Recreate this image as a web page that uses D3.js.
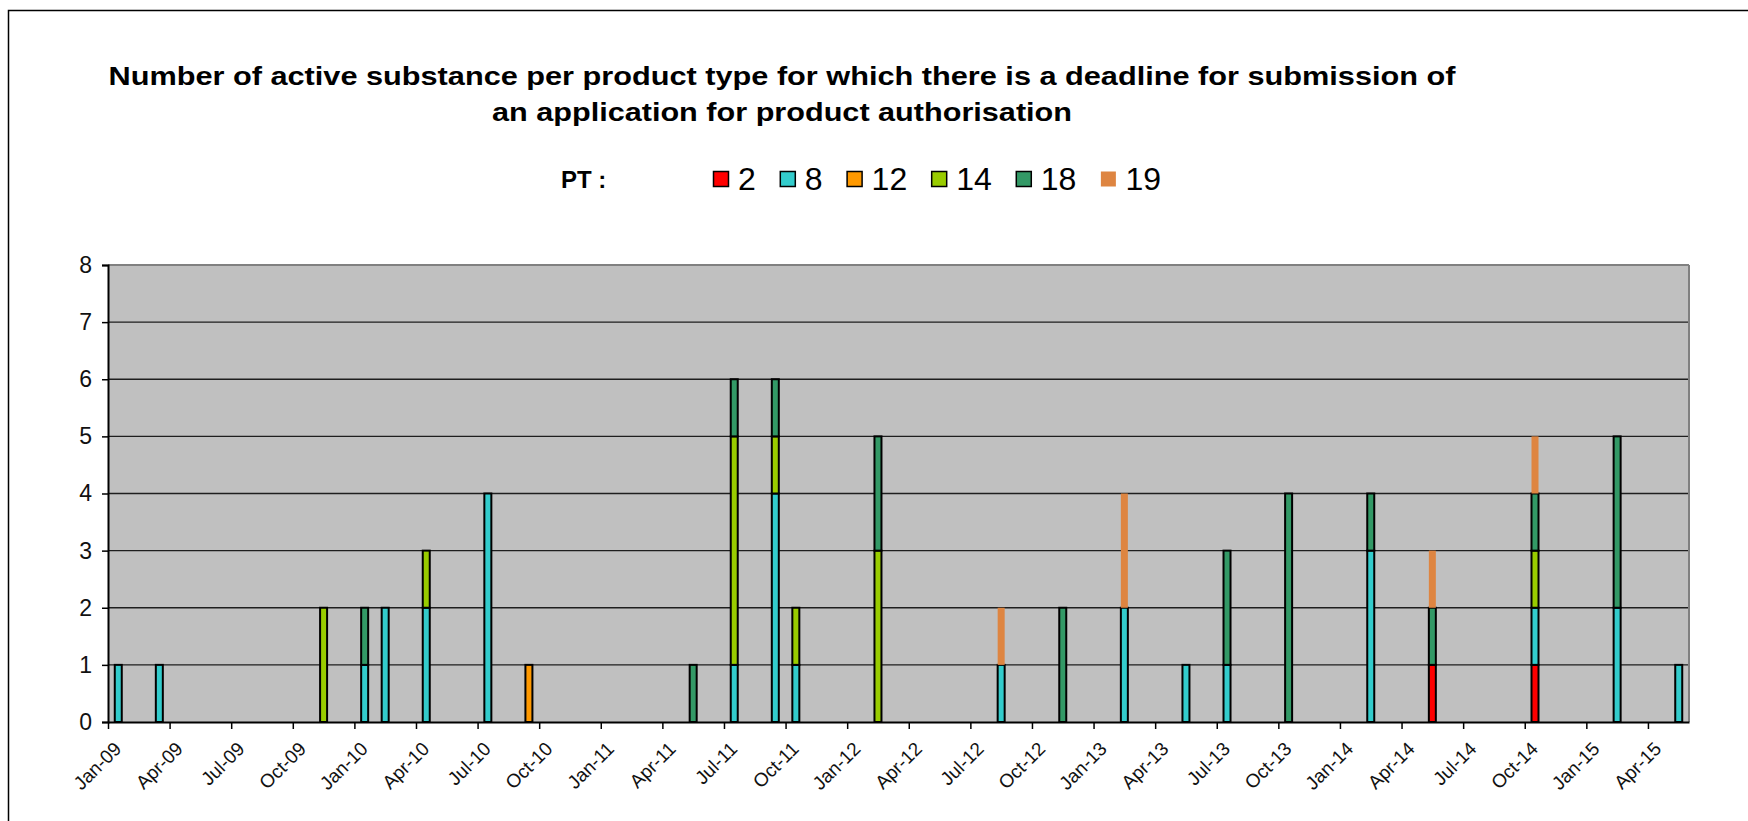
<!DOCTYPE html>
<html>
<head>
<meta charset="utf-8">
<script src="https://cdn.jsdelivr.net/npm/d3@7"></script>
<style>
  body { margin: 0; background: #fff; }
  svg { display: block; font-family: "Liberation Sans", Arial, sans-serif; }
</style>
</head>
<body>
<svg width="1748" height="821"></svg>
<script>
// deadline months (bars) and number of active substances per product type
var barMonths = ["2009-01", "2009-03", "2009-11", "2010-01", "2010-02", "2010-04", "2010-07", "2010-09",
  "2011-05", "2011-07", "2011-09", "2011-10", "2012-02", "2012-08", "2012-11", "2013-02",
  "2013-05", "2013-07", "2013-10", "2014-02", "2014-05", "2014-10", "2015-02", "2015-05"];

var pt2  = [0, 0, 0, 0, 0, 0, 0, 0, 0, 0, 0, 0, 0, 0, 0, 0, 0, 0, 0, 0, 1, 1, 0, 0];
var pt8  = [1, 1, 0, 1, 2, 2, 4, 0, 0, 1, 4, 1, 0, 1, 0, 2, 1, 1, 0, 3, 0, 1, 2, 1];
var pt12 = [0, 0, 0, 0, 0, 0, 0, 1, 0, 0, 0, 0, 0, 0, 0, 0, 0, 0, 0, 0, 0, 0, 0, 0];
var pt14 = [0, 0, 2, 0, 0, 1, 0, 0, 0, 4, 1, 1, 3, 0, 0, 0, 0, 0, 0, 0, 0, 1, 0, 0];
var pt18 = [0, 0, 0, 1, 0, 0, 0, 0, 1, 1, 1, 0, 2, 0, 2, 0, 0, 2, 4, 1, 1, 1, 3, 0];
var pt19 = [0, 0, 0, 0, 0, 0, 0, 0, 0, 0, 0, 0, 0, 1, 0, 2, 0, 0, 0, 0, 1, 1, 0, 0];

var keys = ["2", "8", "12", "14", "18", "19"];
var seriesValues = [pt2, pt8, pt12, pt14, pt18, pt19];
var colors = ["#ff0000", "#33cccc", "#ff9900", "#99cc00", "#339966", "#de8541"];

var tickLabels = ["Jan-09", "Apr-09", "Jul-09", "Oct-09", "Jan-10", "Apr-10", "Jul-10", "Oct-10",
  "Jan-11", "Apr-11", "Jul-11", "Oct-11", "Jan-12", "Apr-12", "Jul-12", "Oct-12",
  "Jan-13", "Apr-13", "Jul-13", "Oct-13", "Jan-14", "Apr-14", "Jul-14", "Oct-14",
  "Jan-15", "Apr-15"];

var titleLines = ["Number of active substance per product type for which there is a deadline for submission of",
  "an application for product authorisation"];

var svg = d3.select("svg");

var plot = {left: 108, right: 1689, top: 265, bottom: 722};

function monthIndex(s) {
  var p = s.split("-");
  return (+p[0] - 2009) * 12 + (+p[1] - 1);
}

var rows = barMonths.map(function (m, i) {
  var r = {m: monthIndex(m)};
  keys.forEach(function (k, j) { r[k] = seriesValues[j][i]; });
  return r;
});

var x = d3.scaleLinear().domain([0, 77]).range([plot.left, plot.right]);
var y = d3.scaleLinear().domain([0, 8]).range([plot.bottom, plot.top]);
var color = d3.scaleOrdinal().domain(keys).range(colors);

// outer frame (only top and left visible)
svg.append("path")
  .attr("d", "M8.5,821V10.5H1748")
  .attr("fill", "none")
  .attr("stroke", "#000")
  .attr("stroke-width", 1.5);

// title (the original is stretched horizontally)
svg.append("g").selectAll("text")
  .data(titleLines)
  .enter().append("text")
  .attr("x", 782)
  .attr("y", function (d, i) { return 85 + i * 36; })
  .attr("text-anchor", "middle")
  .attr("font-size", 26)
  .attr("font-weight", "bold")
  .attr("textLength", function (d, i) { return i === 0 ? 1347 : 580; })
  .attr("lengthAdjust", "spacingAndGlyphs")
  .text(function (d) { return d; });

// legend
svg.append("text")
  .attr("x", 561)
  .attr("y", 188)
  .attr("font-size", 24)
  .attr("font-weight", "bold")
  .text("PT :");

var legend = svg.append("g");
var lx = 713;
keys.forEach(function (k) {
  var g = legend.append("g").attr("transform", "translate(" + lx + ",0)");
  g.append("rect")
    .attr("x", 0.5).attr("y", 171.5)
    .attr("width", 15).attr("height", 15)
    .attr("fill", color(k))
    .attr("stroke", k === "19" ? "none" : "#000")
    .attr("stroke-width", 1.5);
  var t = g.append("text")
    .attr("x", 25).attr("y", 190)
    .attr("font-size", 32)
    .text(k);
  lx += 25 + t.node().getComputedTextLength() + 24;
});

// plot background
svg.append("rect")
  .attr("x", plot.left).attr("y", plot.top)
  .attr("width", plot.right - plot.left).attr("height", plot.bottom - plot.top)
  .attr("fill", "#c0c0c0");

// gridlines
svg.append("g").selectAll("line")
  .data(d3.range(1, 9))
  .enter().append("line")
  .attr("x1", plot.left).attr("x2", plot.right)
  .attr("y1", function (d) { return y(d); })
  .attr("y2", function (d) { return y(d); })
  .attr("stroke", function (d) { return d === 8 ? "#808080" : "#1e1e1e"; })
  .attr("stroke-width", function (d) { return d === 8 ? 2 : 1.4; });

svg.append("line")
  .attr("x1", plot.right).attr("x2", plot.right)
  .attr("y1", plot.top).attr("y2", plot.bottom)
  .attr("stroke", "#808080").attr("stroke-width", 2);

// stacked bars
var stack = d3.stack().keys(keys);
var layers = stack(rows);
var barW = 7;

svg.append("g").selectAll("g")
  .data(layers)
  .enter().append("g")
  .attr("fill", function (d) { return color(d.key); })
  .attr("stroke", function (d) { return d.key === "19" ? "none" : "#000"; })
  .attr("stroke-width", 2)
  .selectAll("rect")
  .data(function (d) { return d.filter(function (s) { return s[1] > s[0]; }); })
  .enter().append("rect")
  .attr("x", function (d) { return x(d.data.m + 0.5) - barW / 2; })
  .attr("y", function (d) { return y(d[1]); })
  .attr("width", barW)
  .attr("height", function (d) { return y(d[0]) - y(d[1]); });

// axes
var yAxis = svg.append("g")
  .attr("transform", "translate(" + plot.left + ",0)")
  .call(d3.axisLeft(y).ticks(8).tickSize(6).tickPadding(10));
yAxis.select(".domain").attr("stroke", "#000").attr("stroke-width", 2);
yAxis.selectAll(".tick line").attr("stroke", "#000").attr("stroke-width", 1.5);
yAxis.selectAll("text")
  .attr("font-size", 23)
  .attr("font-family", "\"Liberation Sans\", Arial, sans-serif")
  .attr("fill", "#111");

var xAxis = svg.append("g")
  .attr("transform", "translate(0," + plot.bottom + ")")
  .call(d3.axisBottom(x)
    .tickValues(tickLabels.map(function (d, i) { return i * 3; }))
    .tickFormat(function (d) { return tickLabels[d / 3]; })
    .tickSize(7)
    .tickSizeOuter(0));
xAxis.select(".domain").attr("stroke", "#000").attr("stroke-width", 2);
xAxis.selectAll(".tick line").attr("stroke", "#000").attr("stroke-width", 1.5);
xAxis.selectAll("text")
  .attr("font-size", 19)
  .attr("font-family", "\"Liberation Sans\", Arial, sans-serif")
  .attr("fill", "#111")
  .attr("text-anchor", "end")
  .attr("dy", null)
  .attr("y", 0)
  .attr("transform", "translate(14,28) rotate(-45)");
</script>
</body>
</html>
